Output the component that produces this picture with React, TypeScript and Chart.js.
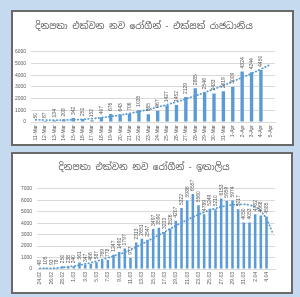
import React, { useEffect, useRef } from "react";
import { Chart, registerables } from "chart.js";

Chart.register(...registerables);

const UK_TITLE = "දිනපතා එක්වන නව රෝගීන් - එක්සත් රාජධානිය";
const UK_DATES = [
  "11-Mar", "12-Mar", "13-Mar", "14-Mar", "15-Mar", "16-Mar", "17-Mar", "18-Mar", "19-Mar",
  "20-Mar", "21-Mar", "22-Mar", "23-Mar", "24-Mar", "25-Mar", "26-Mar", "27-Mar", "28-Mar",
  "29-Mar", "30-Mar", "31-Mar", "1-Apr", "2-Apr", "3-Apr", "4-Apr", "5-Apr",
];
const UK_CASES = [
  50, 87, 134, 208, 342, 251, 152, 407, 676, 643, 706, 1035, 665, 967, 1427, 1452, 2129, 2885,
  2546, 2433, 2619, 3009, 4324, 4244, 4450, null,
];
const UK_TREND = [
  190, 170, 160, 170, 190, 230, 290, 370, 470, 590, 730, 890, 1070, 1270, 1490, 1720, 1970, 2240,
  2520, 2820, 3130, 3460, 3800, 4150, 4520, 4900,
];
const UK_Y_TICKS = [0, 1000, 2000, 3000, 4000, 5000, 6000];

const IT_TITLE = "දිනපතා එක්වන නව රෝගීන් - ඉතාලිය";
const IT_DATES = [
  "24.02", "25.02", "26.02", "27.02", "28.02", "29.02",
  "1.03", "2.03", "3.03", "4.03", "5.03", "6.03", "7.03", "8.03", "9.03", "10.03", "11.03",
  "12.03", "13.03", "14.03", "15.03", "16.03", "17.03", "18.03", "19.03", "20.03", "21.03",
  "22.03", "23.03", "24.03", "25.03", "26.03", "27.03", "28.03", "29.03", "30.03", "31.03",
  "1.04", "2.04", "3.04", "4.04", "5.04",
];
const IT_CASES = [
  48, 105, 93, 78, 250, 238, 240, 561, 347, 466, 587, 769, 778, 1247, 1492, 1797, 977, 2313,
  2651, 2547, 3497, 3590, 3233, 3526, 4207, 5322, 5986, 6557, 5560, 4789, 5249, 5210, 6153,
  5959, 5974, 5217, 4050, 4053, 4782, 4668, 4585, null,
];
const IT_TREND = [
  60, 50, 60, 90, 130, 190, 260, 340, 440, 550, 680, 820, 970, 1130, 1290, 1450, 1680, 1920,
  2170, 2430, 2700, 2970, 3240, 3510, 3780, 4040, 4290, 4530, 4750, 4950, 5130, 5290, 5420,
  5530, 5600, 5640, 5640, 5580, 5420, 5050, 4350, 3250,
];
const IT_Y_TICKS = [0, 1000, 2000, 3000, 4000, 5000, 6000, 7000];

const BLUE = "#5b9bd5";
const GREY = "#595959";
const FONT = "'Liberation Sans', Arial, sans-serif";
const TITLE_FONT = "'Noto Sans Sinhala', 'Iskoola Pota', 'Noto Sans', sans-serif";

const barLabels = {
  id: "barLabels",
  afterDatasetsDraw(chart: any) {
    const idx = chart.data.datasets.findIndex((d: any) => d.type === "bar");
    const meta = chart.getDatasetMeta(idx);
    const data = chart.data.datasets[idx].data;
    const ctx = chart.ctx;
    ctx.save();
    ctx.font = `5px ${FONT}`;
    ctx.fillStyle = GREY;
    ctx.textAlign = "left";
    ctx.textBaseline = "middle";
    meta.data.forEach((bar: any, i: number) => {
      const v = data[i];
      if (v == null) return;
      ctx.save();
      ctx.translate(bar.x, bar.y - 3);
      ctx.rotate(-Math.PI / 2);
      ctx.fillText(String(v), 0, 0);
      ctx.restore();
    });
    ctx.restore();
  },
};

type Cfg = {
  title: string;
  labels: string[];
  cases: (number | null)[];
  trend: number[];
  yTicks: number[];
  width: number;
  height: number;
  yWidth: number;
  padRight: number;
  titleTop: number;
  titleBottom: number;
  xHeight: number;
  barPct: number;
  everyOther: boolean;
  titleSize: number;
};

function BarChart({ cfg }: { cfg: Cfg }) {
  const ref = useRef<HTMLCanvasElement>(null);
  useEffect(() => {
    const yMax = cfg.yTicks[cfg.yTicks.length - 1];
    const chart = new Chart(ref.current!, {
      type: "bar",
      data: {
        labels: cfg.labels,
        datasets: [
          {
            type: "line",
            data: cfg.trend,
            borderColor: BLUE,
            borderWidth: 1.8,
            borderDash: [0.5, 3],
            borderCapStyle: "round",
            pointRadius: 0,
            fill: false,
            tension: 0.4,
            order: 0,
          } as any,
          {
            type: "bar",
            data: cfg.cases,
            backgroundColor: BLUE,
            barPercentage: cfg.barPct,
            categoryPercentage: 1,
            order: 1,
          } as any,
        ],
      },
      options: {
        responsive: false,
        animation: false,
        devicePixelRatio: 1,
        layout: { padding: { left: 0, right: cfg.padRight, top: 0, bottom: 0 } },
        plugins: {
          legend: { display: false },
          tooltip: { enabled: false },
          title: {
            display: true,
            text: cfg.title,
            color: GREY,
            font: { family: TITLE_FONT, size: cfg.titleSize, weight: "normal" },
            padding: { top: cfg.titleTop, bottom: cfg.titleBottom },
          },
        },
        scales: {
          x: {
            grid: { display: false, drawTicks: false },
            border: { display: true, color: "#d9d9d9" },
            ticks: {
              autoSkip: false,
              minRotation: 90,
              maxRotation: 90,
              padding: 3,
              color: GREY,
              font: { family: FONT, size: 5 },
              callback: (_v: any, i: number) =>
                cfg.everyOther && i % 2 !== 0 ? "" : cfg.labels[i],
            },
            afterFit: (s: any) => {
              s.height = cfg.xHeight;
            },
          },
          y: {
            min: 0,
            max: yMax,
            grid: { color: "#d9d9d9", drawTicks: false, lineWidth: 1 },
            border: { display: false },
            afterBuildTicks: (s: any) => {
              s.ticks = cfg.yTicks.map((v) => ({ value: v }));
            },
            ticks: {
              padding: 5,
              color: GREY,
              font: { family: FONT, size: 5 },
              callback: (v: any) => String(v),
            },
            afterFit: (s: any) => {
              s.width = cfg.yWidth;
            },
          },
        },
      },
      plugins: [barLabels],
    });
    return () => chart.destroy();
  }, []);
  return (
    <canvas
      ref={ref}
      width={cfg.width}
      height={cfg.height}
      style={{ display: "block", width: cfg.width, height: cfg.height }}
    />
  );
}

const ukCfg: Cfg = {
  title: UK_TITLE,
  labels: UK_DATES,
  cases: UK_CASES,
  trend: UK_TREND,
  yTicks: UK_Y_TICKS,
  width: 279,
  height: 132,
  yWidth: 18,
  padRight: 17,
  titleTop: 9,
  titleBottom: 20,
  xHeight: 22,
  barPct: 0.36,
  everyOther: false,
  titleSize: 9,
};

const itCfg: Cfg = {
  title: IT_TITLE,
  labels: IT_DATES,
  cases: IT_CASES,
  trend: IT_TREND,
  yTicks: IT_Y_TICKS,
  width: 278,
  height: 138,
  yWidth: 24,
  padRight: 16,
  titleTop: 8,
  titleBottom: 16,
  xHeight: 23,
  barPct: 0.45,
  everyOther: true,
  titleSize: 9,
};

export default function App() {
  const frame = (left: number, top: number, w: number, h: number): React.CSSProperties => ({
    position: "absolute",
    left,
    top,
    width: w,
    height: h,
    background: "#ffffff",
    border: "2px solid #6a6a6a",
    boxSizing: "border-box",
  });
  return (
    <div
      style={{
        position: "fixed",
        left: 0,
        top: 0,
        width: 300,
        height: 297,
        background: "#c5d9ef",
        overflow: "hidden",
      }}
    >
      <div style={frame(11, 10, 283, 136)}>
        <BarChart cfg={ukCfg} />
      </div>
      <div style={frame(11, 152, 282, 142)}>
        <BarChart cfg={itCfg} />
      </div>
    </div>
  );
}
